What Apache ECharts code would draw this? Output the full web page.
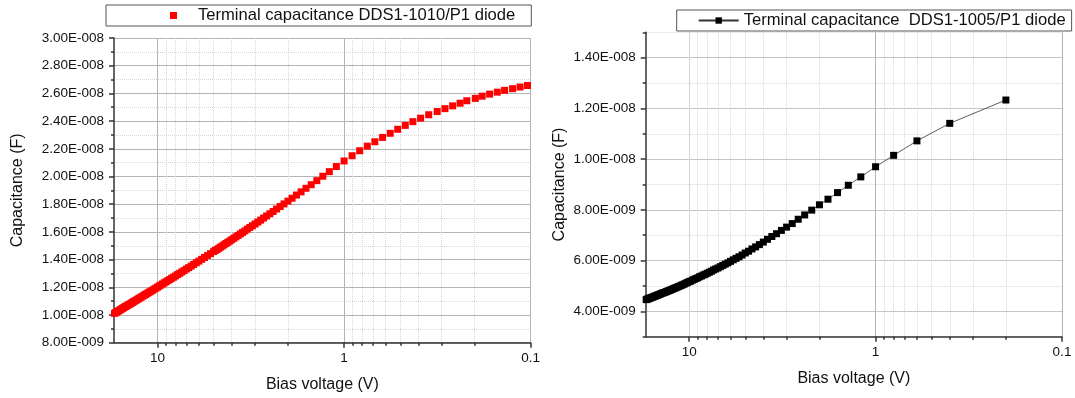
<!DOCTYPE html>
<html>
<head>
<meta charset="utf-8">
<script src="https://cdn.jsdelivr.net/npm/echarts@6/dist/echarts.min.js"></script>
<style>
html, body { margin: 0; padding: 0; background: #fff; }
#chart { width: 1075px; height: 398px; }
</style>
</head>
<body>
<div id="chart"></div>
<script>
// left panel: DDS1-1010/P1 (red squares), right panel: DDS1-1005/P1 (black squares + line)
var leftName = 'Terminal capacitance DDS1-1010/P1 diode';
var rightName = 'Terminal capacitance  DDS1-1005/P1 diode';

// bias voltage (V) and capacitance (nF)
var leftVoltage = [0.104, 0.114, 0.125, 0.138, 0.151, 0.166, 0.182, 0.198, 0.22, 0.239, 0.262, 0.288,
    0.317, 0.352, 0.389, 0.428, 0.47, 0.516, 0.566, 0.622, 0.684, 0.751, 0.825, 0.906,
    1.0, 1.1, 1.2, 1.3, 1.4, 1.5, 1.6, 1.7, 1.8, 1.9, 2.0, 2.1, 2.2, 2.3, 2.4, 2.5, 2.6, 2.7, 2.8, 2.9,
    3.0, 3.1, 3.2, 3.3, 3.4, 3.5, 3.6, 3.7, 3.8, 3.9, 4.0, 4.1, 4.2, 4.3, 4.4, 4.5, 4.6, 4.7, 4.8, 4.9,
    5.0, 5.2, 5.4, 5.6, 5.8, 6.0, 6.2, 6.4, 6.6, 6.8, 7.0, 7.2, 7.4, 7.6, 7.8, 8.0, 8.2, 8.4, 8.6, 8.8,
    9.0, 9.2, 9.4, 9.6, 9.8, 10.0, 10.2, 10.4, 10.6, 10.8, 11.0, 11.2, 11.4, 11.6, 11.8, 12.0, 12.2,
    12.4, 12.6, 12.8, 13.0, 13.2, 13.4, 13.6, 13.8, 14.0, 14.2, 14.4, 14.6, 14.8, 15.0, 15.2, 15.4,
    15.6, 15.8, 16.0, 16.2, 16.4, 16.6, 16.8, 17.0];
var leftCapNF = [26.57, 26.46, 26.34, 26.22, 26.09, 25.95, 25.80, 25.64, 25.47, 25.29, 25.10, 24.90,
    24.69, 24.46, 24.21, 23.96, 23.69, 23.41, 23.12, 22.82, 22.51, 22.19, 21.86, 21.50,
    21.12, 20.72, 20.35, 20.02, 19.70, 19.41, 19.15, 18.89, 18.66, 18.43, 18.22, 18.02, 17.83, 17.65,
    17.47, 17.31, 17.15, 17.00, 16.85, 16.71, 16.57, 16.44, 16.32, 16.20, 16.07, 15.96, 15.85, 15.74,
    15.64, 15.54, 15.44, 15.34, 15.25, 15.16, 15.07, 14.98, 14.90, 14.81, 14.73, 14.66,
    14.58, 14.43, 14.29, 14.15, 14.02, 13.89, 13.77, 13.65, 13.53, 13.42, 13.32, 13.21, 13.11, 13.01,
    12.92, 12.82, 12.73, 12.65, 12.56, 12.48, 12.40, 12.32, 12.24, 12.16, 12.09, 12.01, 11.94, 11.87,
    11.80, 11.73, 11.67, 11.61, 11.54, 11.48, 11.42, 11.36, 11.30, 11.24, 11.18, 11.13, 11.07, 11.02,
    10.97, 10.91, 10.86, 10.81, 10.76, 10.71, 10.66, 10.62, 10.57, 10.52, 10.48, 10.43, 10.38, 10.34,
    10.29, 10.25, 10.20, 10.16, 10.12];

var rightVoltage = [0.2, 0.4, 0.6, 0.8, 1.0, 1.2, 1.4, 1.6, 1.8, 2.0, 2.2, 2.4, 2.6, 2.8, 3.0, 3.2, 3.4,
    3.6, 3.8, 4.0, 4.2, 4.4, 4.6, 4.8, 5.0, 5.2, 5.4, 5.6, 5.8, 6.0, 6.2, 6.4, 6.6, 6.8, 7.0, 7.2, 7.4,
    7.6, 7.8, 8.0, 8.2, 8.4, 8.6, 8.8, 9.0, 9.2, 9.4, 9.6, 9.8, 10.0, 10.2, 10.4, 10.6, 10.8, 11.0, 11.2,
    11.4, 11.6, 11.8, 12.0, 12.2, 12.4, 12.6, 12.8, 13.0, 13.2, 13.4, 13.6, 13.8, 14.0, 14.2, 14.4, 14.6,
    14.8, 15.0, 15.2, 15.4, 15.6, 15.8, 16.0, 16.2, 16.4, 16.6, 16.8, 17.0];
var rightCapNF = [12.33, 11.41, 10.72, 10.15, 9.70, 9.30, 8.97, 8.68, 8.42, 8.20, 7.99, 7.80, 7.63, 7.46,
    7.32, 7.19, 7.06, 6.95, 6.84, 6.73, 6.63, 6.54, 6.46, 6.37, 6.30, 6.22, 6.15, 6.09, 6.03, 5.97, 5.91,
    5.86, 5.81, 5.76, 5.71, 5.67, 5.63, 5.58, 5.54, 5.50, 5.46, 5.43, 5.39, 5.36, 5.32, 5.29, 5.26, 5.23,
    5.19, 5.17, 5.14, 5.11, 5.08, 5.05, 5.03, 5.00, 4.98, 4.95, 4.93, 4.91, 4.89, 4.86, 4.84, 4.82, 4.80,
    4.78, 4.76, 4.74, 4.73, 4.71, 4.69, 4.67, 4.65, 4.64, 4.62, 4.60, 4.59, 4.57, 4.55, 4.54, 4.52, 4.51,
    4.49, 4.48, 4.46];

// tick values
var xMajorTicks = [0.1, 1, 10];
var xMinorTicks = [0.2, 0.3, 0.4, 0.5, 0.6, 0.7, 0.8, 0.9, 2, 3, 4, 5, 6, 7, 8, 9];
var rightYTicks = [4e-9, 6e-9, 8e-9, 1e-8, 1.2e-8, 1.4e-8];

var FONT = "'Liberation Sans', Arial, sans-serif";
var AXIS_COLOR = '#333';

function pairs(vs, cs) {
    return vs.map(function (v, i) { return [v, cs[i] * 1e-9]; });
}

// 1.00E-008 style labels
function sci(v) {
    var e = Math.floor(Math.log10(Math.abs(v)) + 1e-9);
    var m = v / Math.pow(10, e);
    if (Math.round(m * 100) / 100 >= 10) { m = m / 10; e++; }
    return m.toFixed(2) + 'E' + (e < 0 ? '-' : '+') + String(Math.abs(e)).padStart(3, '0');
}

function mainX(grid, gridColor) {
    return {
        type: 'log', gridIndex: grid, position: 'bottom', min: 0.1, max: 17.1, inverse: true,
        axisLine: { show: true, onZero: false, lineStyle: { color: AXIS_COLOR, width: 1.5 } },
        axisTick: { show: true, customValues: xMajorTicks, length: 5, lineStyle: { color: AXIS_COLOR, width: 1.5 } },
        axisLabel: { customValues: xMajorTicks, margin: 9, fontSize: 13.5, color: '#111', fontFamily: FONT },
        splitLine: { show: true, lineStyle: { color: gridColor, width: 1 } },
        name: 'Bias voltage (V)', nameLocation: 'middle', nameGap: 34,
        nameTextStyle: { fontSize: 16, color: '#111', fontFamily: FONT }
    };
}

function minorX(grid) {
    return {
        type: 'log', gridIndex: grid, position: 'bottom', min: 0.1, max: 17.1, inverse: true,
        axisLine: { show: false },
        axisTick: { show: true, customValues: xMinorTicks, length: 3, lineStyle: { color: AXIS_COLOR, width: 1.5 } },
        axisLabel: { show: false },
        splitLine: { show: true, lineStyle: { color: '#d6d6d6', width: 1, type: 'dotted' } }
    };
}

var chart = echarts.init(document.getElementById('chart'));
chart.setOption({
    animation: false,
    backgroundColor: '#fff',
    grid: [
        { left: 114, top: 38, width: 416.7, height: 304.7 },
        { left: 645.7, top: 32.3, width: 416.3, height: 304.4 }
    ],
    legend: [
        {
            data: [leftName], left: 106, top: 5, padding: [2, 16, 2, 64],
            borderColor: '#555', borderWidth: 1, backgroundColor: '#fff', selectedMode: false,
            icon: 'rect', itemWidth: 7, itemHeight: 7,
            textStyle: { fontSize: 16.6, color: '#111', fontFamily: FONT, padding: [0, 0, 0, 16] }
        },
        {
            data: [rightName], left: 676.7, top: 10, padding: [2, 6, 2, 21],
            borderColor: '#555', borderWidth: 1, backgroundColor: '#fff', selectedMode: false,
            itemWidth: 40, itemHeight: 8,
            textStyle: { fontSize: 16.6, color: '#111', fontFamily: FONT }
        }
    ],
    xAxis: [
        mainX(0, '#b4b4b4'), minorX(0),
        // the 10 V line on the right panel is drawn lighter in the original
        mainX(1, ['#b4b4b4', '#b4b4b4', '#d4d4d4']), minorX(1)
    ],
    yAxis: [
        {
            type: 'value', gridIndex: 0, position: 'left', min: 8e-9, max: 3e-8, interval: 2e-9,
            axisLine: { show: true, lineStyle: { color: AXIS_COLOR, width: 1.5 } },
            axisTick: { show: true, length: 5, lineStyle: { color: AXIS_COLOR, width: 1.5 } },
            minorTick: { show: true, splitNumber: 2, length: 3, lineStyle: { color: AXIS_COLOR, width: 1.5 } },
            axisLabel: { formatter: sci, margin: 10, fontSize: 13.5, color: '#111', fontFamily: FONT },
            splitLine: { show: true, lineStyle: { color: '#b4b4b4', width: 1 } },
            minorSplitLine: { show: true, lineStyle: { color: '#d6d6d6', width: 1, type: 'dotted' } },
            name: 'Capacitance (F)', nameLocation: 'middle', nameGap: 88,
            nameTextStyle: { fontSize: 16, color: '#111', fontFamily: FONT }
        },
        {
            type: 'value', gridIndex: 1, position: 'left', min: 3e-9, max: 1.5e-8,
            axisLine: { show: true, lineStyle: { color: AXIS_COLOR, width: 1.5 } },
            axisTick: { show: true, customValues: rightYTicks, length: 5, lineStyle: { color: AXIS_COLOR, width: 1.5 } },
            axisLabel: { customValues: rightYTicks, formatter: sci, margin: 10, fontSize: 13.5, color: '#111', fontFamily: FONT },
            splitLine: { show: true, lineStyle: { color: '#b4b4b4', width: 1 } },
            name: 'Capacitance (F)', nameLocation: 'middle', nameGap: 78,
            nameTextStyle: { fontSize: 16, color: '#111', fontFamily: FONT }
        },
        {
            type: 'value', gridIndex: 1, position: 'left', min: 3e-9, max: 1.5e-8, interval: 1e-9,
            axisLine: { show: false },
            axisTick: { show: true, length: 3, lineStyle: { color: AXIS_COLOR, width: 1.5 } },
            axisLabel: { show: false },
            splitLine: { show: true, lineStyle: { color: '#d6d6d6', width: 1, type: 'dotted' } }
        }
    ],
    series: [
        {
            type: 'scatter', name: leftName, xAxisIndex: 0, yAxisIndex: 0,
            data: pairs(leftVoltage, leftCapNF),
            symbol: 'rect', symbolSize: 7, itemStyle: { color: '#ff0000', opacity: 1 }
        },
        {
            type: 'line', name: rightName, xAxisIndex: 2, yAxisIndex: 1,
            data: pairs(rightVoltage, rightCapNF),
            symbol: 'rect', symbolSize: 7, showAllSymbol: true,
            itemStyle: { color: '#000' }, lineStyle: { color: '#333', width: 0.8 }
        }
    ]
});
</script>
</body>
</html>
